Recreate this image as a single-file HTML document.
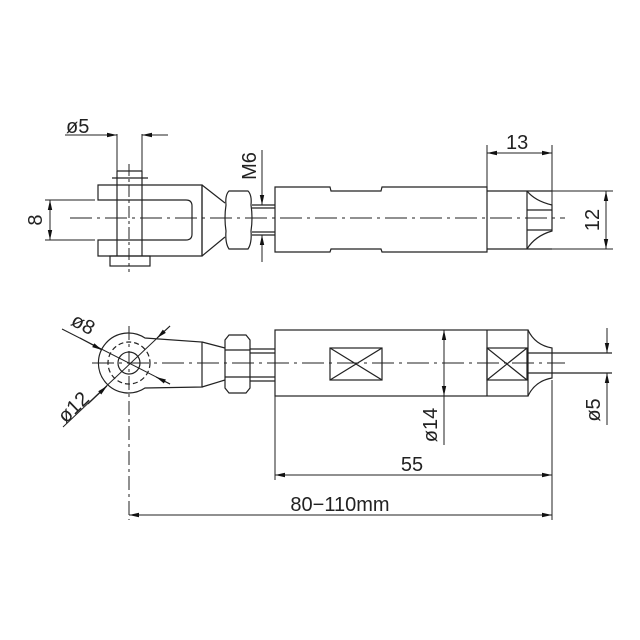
<!DOCTYPE html>
<html><head><meta charset="utf-8"><style>html,body{margin:0;padding:0;background:#fff}svg{display:block}</style></head>
<body>
<svg width="640" height="640" viewBox="0 0 640 640" xmlns="http://www.w3.org/2000/svg">
<defs>
<marker id="a" viewBox="0 0 10 6" refX="10" refY="3" markerWidth="10" markerHeight="6" orient="auto-start-reverse" markerUnits="userSpaceOnUse"><path d="M0,0.8 L10,3 L0,5.2 Z" fill="#111"/></marker>
</defs>
<g fill="none" stroke="#222" stroke-width="1.2">
<line x1="70" y1="218" x2="565" y2="218" stroke-dasharray="22,5,3,5" stroke-width="1"/>
<path d="M202,185 H98 V200 H186 Q192,200 192,206 V234 Q192,240 186,240 H98 V256 H202 Z"/>
<line x1="202" y1="185" x2="202" y2="256"/>
<path d="M202,185 L225,203 M202,256 L225,237"/>
<line x1="117" y1="171" x2="117" y2="256"/>
<line x1="142" y1="171" x2="142" y2="256"/>
<path d="M117,171 H142"/>
<line x1="112" y1="178" x2="148" y2="178"/>
<rect x="110" y="256" width="40" height="10"/>
<line x1="129" y1="164" x2="129" y2="272" stroke-dasharray="12,3,3,3" stroke-width="1"/>
<line x1="117" y1="134" x2="117" y2="171" stroke-width="1"/>
<line x1="142" y1="134" x2="142" y2="171" stroke-width="1"/>
<line x1="65" y1="135" x2="117" y2="135" marker-end="url(#a)" stroke-width="1"/>
<line x1="168" y1="135" x2="142" y2="135" marker-end="url(#a)" stroke-width="1"/>
<line x1="45" y1="200" x2="95" y2="200" stroke-width="1"/>
<line x1="45" y1="240" x2="95" y2="240" stroke-width="1"/>
<line x1="50" y1="200" x2="50" y2="240" marker-start="url(#a)" marker-end="url(#a)" stroke-width="1"/>
<path d="M229,191 H248 Q252,195 251,205 Q253,218 251,231 Q252,243 248,249 H229 Q225,243 226,231 Q224,218 226,205 Q225,195 229,191 Z"/>
<path d="M252,205 H275 M252,208 H275 M252,232 H275 M252,235 H275"/>
<line x1="262" y1="150" x2="262" y2="205" marker-end="url(#a)" stroke-width="1"/>
<line x1="262" y1="262" x2="262" y2="235" marker-end="url(#a)" stroke-width="1"/>
<path d="M275,187 H330 L331,191 H381 L382,187 H487 V252 H382 L381,249 H331 L330,252 H275 Z"/>
<path d="M487,191 H552 M487,249 H552"/>
<line x1="527" y1="191" x2="527" y2="249"/>
<path d="M527,191 Q535,201 552,205 V231 Q535,236 527,249"/>
<path d="M527,210 H552 M527,230 H552"/>
<line x1="487" y1="145" x2="487" y2="187" stroke-width="1"/>
<line x1="552" y1="145" x2="552" y2="205" stroke-width="1"/>
<line x1="487" y1="153" x2="552" y2="153" marker-start="url(#a)" marker-end="url(#a)" stroke-width="1"/>
<line x1="552" y1="191" x2="613" y2="191" stroke-width="1"/>
<line x1="552" y1="249" x2="613" y2="249" stroke-width="1"/>
<line x1="606" y1="191" x2="606" y2="249" marker-start="url(#a)" marker-end="url(#a)" stroke-width="1"/>

<line x1="92" y1="363" x2="565" y2="363" stroke-dasharray="22,5,3,5" stroke-width="1"/>
<line x1="129" y1="326" x2="129" y2="520" stroke-dasharray="14,4,3,4" stroke-width="1"/>
<path d="M145,338 A30,30 0 1 0 145,388 L202,387 V342 Z"/>
<circle cx="129" cy="363" r="21" stroke-dasharray="5,3"/>
<circle cx="129" cy="363" r="11"/>
<path d="M202,342 L225,348 M202,387 L225,380"/>
<path d="M229,335 H246 L250,340 V388 L246,393 H229 L225,388 V340 Z"/>
<path d="M225,350 H250 M225,377 H250"/>
<path d="M250,349 H275 M250,353 H275 M250,377 H275 M250,381 H275"/>
<rect x="275" y="330" width="253" height="66"/>
<rect x="330" y="348" width="52" height="32"/>
<path d="M330,348 L382,380 M382,348 L330,380"/>
<line x1="487" y1="330" x2="487" y2="396"/>
<rect x="487" y="348" width="40" height="32"/>
<path d="M487,348 L527,380 M527,348 L487,380"/>
<path d="M528,330 Q535,345 552,348 V378 Q535,381 528,396"/>
<path d="M528,353 H612 M528,373 H612"/>
<line x1="444" y1="363" x2="444" y2="330" marker-end="url(#a)" stroke-width="1"/>
<line x1="444" y1="363" x2="444" y2="396" marker-end="url(#a)" stroke-width="1"/>
<line x1="444" y1="396" x2="444" y2="445" stroke-width="1"/>
<line x1="607" y1="328" x2="607" y2="353" marker-end="url(#a)" stroke-width="1"/>
<line x1="607" y1="425" x2="607" y2="373" marker-end="url(#a)" stroke-width="1"/>
<line x1="62" y1="329" x2="170" y2="384" stroke-width="1"/>
<line x1="80" y1="338" x2="102" y2="350" marker-end="url(#a)" stroke-width="1"/>
<line x1="170" y1="384" x2="156" y2="377" marker-end="url(#a)" stroke-width="1"/>
<line x1="63" y1="427" x2="170" y2="326" stroke-width="1"/>
<line x1="88" y1="404" x2="107" y2="386" marker-end="url(#a)" stroke-width="1"/>
<line x1="170" y1="326" x2="157" y2="338" marker-end="url(#a)" stroke-width="1"/>
<line x1="275" y1="396" x2="275" y2="480" stroke-width="1"/>
<line x1="552" y1="380" x2="552" y2="520" stroke-width="1"/>
<line x1="275" y1="475" x2="552" y2="475" marker-start="url(#a)" marker-end="url(#a)" stroke-width="1"/>
<line x1="129" y1="515" x2="552" y2="515" marker-start="url(#a)" marker-end="url(#a)" stroke-width="1"/>
</g>
<g font-family="Liberation Sans, sans-serif" font-size="20" fill="#222">
<text x="66" y="133">ø5</text>
<text x="506" y="149">13</text>
<text x="42" y="220" text-anchor="middle" transform="rotate(-90 42 220)">8</text>
<text x="256" y="166" text-anchor="middle" transform="rotate(-90 256 166)">M6</text>
<text x="599" y="220" text-anchor="middle" transform="rotate(-90 599 220)">12</text>
<text x="80" y="330" text-anchor="middle" transform="rotate(28 80 330)">ø8</text>
<text x="78" y="412" text-anchor="middle" transform="rotate(-44 78 412)">ø12</text>
<text x="437" y="425" text-anchor="middle" transform="rotate(-90 437 425)">ø14</text>
<text x="600" y="410" text-anchor="middle" transform="rotate(-90 600 410)">ø5</text>
<text x="412" y="471" text-anchor="middle">55</text>
<text x="340" y="511" text-anchor="middle">80−110mm</text>
</g>
</svg>
</body></html>
